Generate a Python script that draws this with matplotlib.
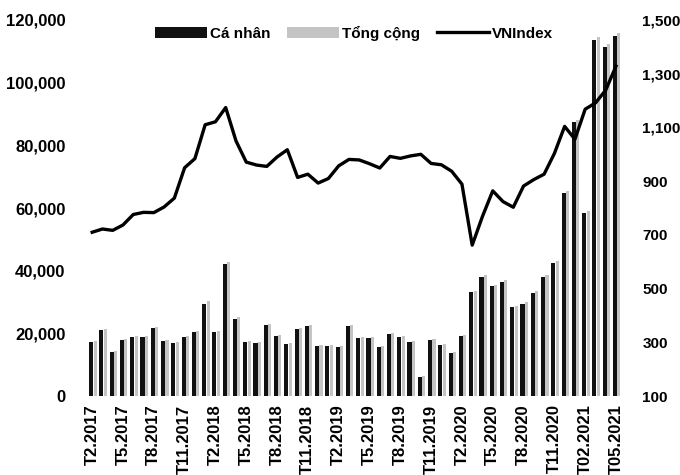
import numpy as np
import matplotlib
matplotlib.use("Agg")
import matplotlib.pyplot as plt

plt.rcParams['font.family'] = ['Liberation Sans', 'DejaVu Sans']

# ---- data: monthly, T2.2017 .. T05.2021 ----
ca_nhan = [17200, 21000, 14000, 17900, 18800, 18800, 21700, 17500, 16900, 18800,
           20400, 29500, 20400, 42100, 24600, 17200, 16900, 22600, 19100, 16600,
           21400, 22300, 16000, 16000, 15600, 22300, 18500, 18500, 15600, 19800,
           18800, 17200, 6100, 17900, 16300, 13700, 19100, 33200, 38000, 35100,
           36400, 28300, 29500, 32900, 38000, 42400, 64800, 87400, 58400, 113600,
           111300, 114800]
tong_cong = [17500, 21400, 14300, 18300, 19200, 19100, 22100, 17900, 17200, 19200,
             20800, 30200, 20800, 42800, 25100, 17600, 17300, 23000, 19500, 17000,
             21800, 22700, 16400, 16300, 15900, 22700, 18900, 18900, 15900, 20200,
             19200, 17600, 6300, 18300, 16600, 14000, 19500, 33700, 38500, 35600,
             36900, 28700, 30000, 33400, 38500, 43000, 65500, 88200, 59100, 114600,
             112200, 115900]
vnindex = [710, 722, 717, 737, 776, 784, 783, 804, 837, 950, 984,
           1110, 1121, 1174, 1050, 971, 960, 955, 990, 1017, 914, 926, 893,
           910, 957, 981, 979, 965, 949, 992, 985, 994, 1000, 966, 961,
           937, 889, 662, 769, 864, 824, 803, 882, 906, 926, 1003, 1104,
           1056, 1168, 1191, 1239, 1328]
tick_labels = ["T2.2017", "T5.2017", "T8.2017", "T11.2017", "T2.2018", "T5.2018",
               "T8.2018", "T11.2018", "T2.2019", "T5.2019", "T8.2019", "T11.2019",
               "T2.2020", "T5.2020", "T8.2020", "T11.2020", "T02.2021", "T05.2021"]

x = np.arange(len(ca_nhan))

fig = plt.figure(figsize=(6.8, 4.75), dpi=100)
ax = fig.add_axes([0.125, 0.166, 0.799, 0.792])
ax2 = ax.twinx()

b1 = ax.bar(x - 0.1, ca_nhan, width=0.4, color="#111111", zorder=2)
b2 = ax.bar(x + 0.28, tong_cong, width=0.3, color="#c4c4c4", zorder=1)
l1, = ax2.plot(x, vnindex, color="black", lw=2.4, zorder=3)

ax.set_xlim(-0.7, 52.2)
ax.set_ylim(0, 120000)
ax2.set_ylim(100, 1500)
ax.set_yticks(range(0, 120001, 20000))
ax.set_yticklabels([f"{v:,}" for v in range(0, 120001, 20000)])
ax2.set_yticks(range(100, 1501, 200))
ax2.set_yticklabels([f"{v:,}" for v in range(100, 1501, 200)])
ax.set_xticks(x[::3])
ax.set_xticklabels(tick_labels, rotation=90)

for a in (ax, ax2):
    for s in a.spines.values():
        s.set_visible(False)
    a.tick_params(length=0, labelsize=12)
    for t in a.get_yticklabels() + a.get_xticklabels():
        t.set_fontweight("bold")
ax.tick_params(axis="y", pad=14)
ax.tick_params(axis="x", pad=6)
ax2.tick_params(axis="y", pad=10, labelsize=11)

leg = ax.legend([b1, b2, l1], ["Cá nhân", "Tổng cộng", "VNIndex"], loc="center",
                bbox_to_anchor=(0.495, 0.965), ncol=3, frameon=False, fontsize=11,
                handlelength=3.4, handletextpad=0.2, columnspacing=1.1)
for t in leg.get_texts():
    t.set_fontweight("bold")

fig.savefig("out.png", dpi=100)
